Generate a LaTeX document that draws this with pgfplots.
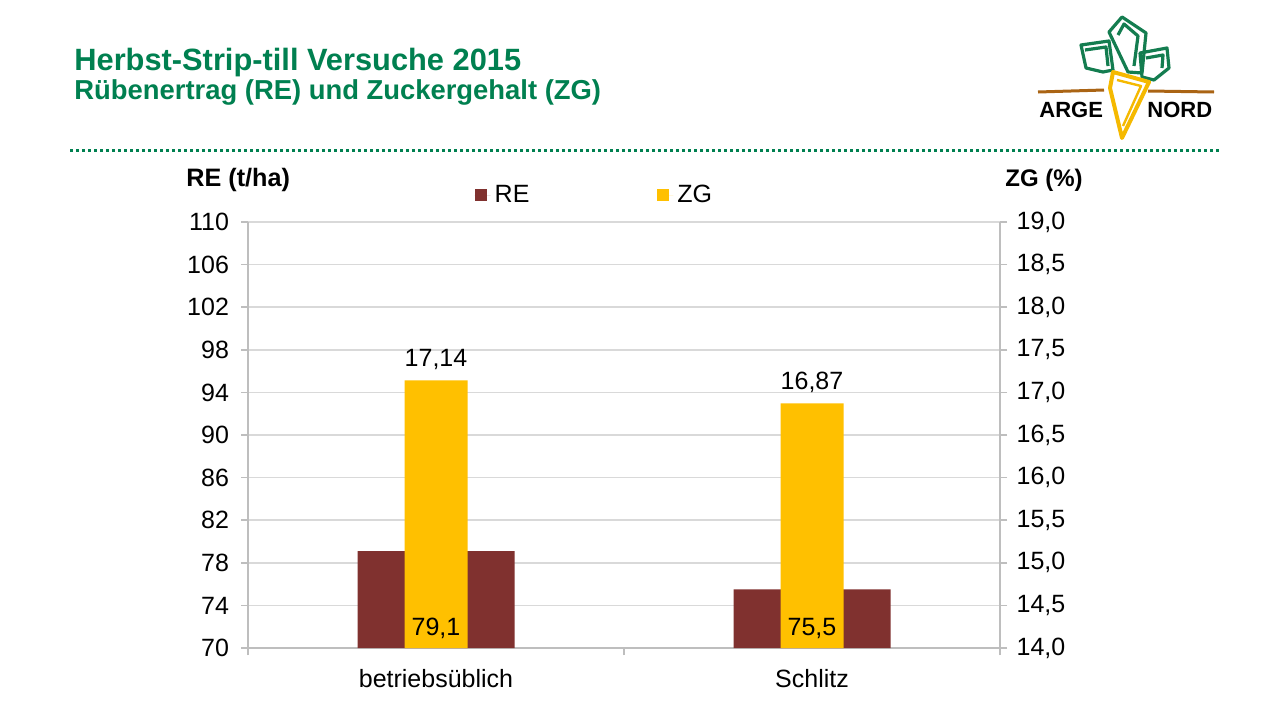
\documentclass[border=0pt]{standalone}
\usepackage{pgfplots}
\pgfplotsset{compat=1.18}
\usepackage{fontspec}
\setmainfont{Liberation Sans}
\definecolor{titlegreen}{RGB}{0,128,80}
\definecolor{recolor}{RGB}{128,49,47}
\definecolor{zgcolor}{RGB}{255,192,0}
\definecolor{gridgray}{RGB}{217,217,217}
\definecolor{axisgray}{RGB}{190,190,190}
\definecolor{logogreen}{RGB}{20,125,80}
\definecolor{logoyellow}{RGB}{245,185,0}
\definecolor{logobrown}{RGB}{170,100,20}
\pgfplotsset{
  base/.style={
    scale only axis, width=376pt, height=213pt, at={(124pt,36pt)}, anchor=south west,
    xmin=-0.5, xmax=1.5,
    tick label style={font=\fontsize{12.5}{15}\selectfont, text=black},
    /pgf/number format/assume math mode=true,
    axis line style={draw=axisgray, line width=0.75pt},
    tick style={draw=axisgray, line width=0.75pt},
    major tick length=3.5pt,
    tick align=outside,
  },
  sq legend/.style={legend image code/.code={\fill[##1] (0pt,-3pt) rectangle (6pt,3pt); \path (0pt,0pt) -- (8pt,0pt);}},
}
\begin{document}
\begin{tikzpicture}
\path[use as bounding box, fill=white] (0,0) rectangle (640pt,360pt);
\begin{scope}[x=0.5pt,y=-0.5pt,yshift=360pt]
  % titles
  \node[anchor=base west, inner sep=0, text=titlegreen, font=\fontsize{15.4}{18}\selectfont\bfseries] at (74,70) {Herbst-Strip-till Versuche 2015};
  \node[anchor=base west, inner sep=0, text=titlegreen, font=\fontsize{13.7}{16}\selectfont\bfseries] at (74,99) {Rübenertrag (RE) und Zuckergehalt (ZG)};
  % dotted separator
  \draw[titlegreen, line width=1.5pt, dash pattern=on 1.5pt off 1.5pt] (70,150) -- (1220,150);
  % axis titles
  \node[anchor=base west, inner sep=0, font=\fontsize{12.6}{15}\selectfont\bfseries] at (186,186) {RE (t/ha)};
  \node[anchor=base west, inner sep=0, font=\fontsize{12}{15}\selectfont\bfseries] at (1005,186) {ZG (\%)};
  % logo
  \draw[logobrown, line width=1.5pt] (1038,92) -- (1104,90);
  \draw[logobrown, line width=1.5pt] (1148,91) -- (1214,92);
  \begin{scope}[line width=1.6pt, line join=round]
    \draw[logogreen] (1081,45) -- (1109,41) -- (1113,70) -- (1103,72) -- (1086,68) -- cycle;
    \draw[logogreen] (1085,50) -- (1106,47) -- (1108,66);
    \draw[logogreen] (1109,32) -- (1122,17) -- (1146,33) -- (1142,73) -- (1128,72) -- cycle;
    \draw[logogreen] (1118,35) -- (1124,24) -- (1138,36) -- (1134,66);
    \draw[logogreen] (1140,53) -- (1167,48) -- (1169,68) -- (1154,80) -- (1142,77) -- cycle;
    \draw[logogreen] (1146,58) -- (1163,55) -- (1162,68);
    \draw[logoyellow, line width=2pt] (1113,72) -- (1149,82) -- (1122,138) -- (1110,88) -- cycle;
    \draw[logoyellow, line width=1.2pt] (1117,80) -- (1141,86) -- (1123,126);
  \end{scope}
  \node[anchor=base west, inner sep=0, font=\fontsize{11}{13}\selectfont\bfseries] at (1039,117) {ARGE};
  \node[anchor=base west, inner sep=0, font=\fontsize{11}{13}\selectfont\bfseries] at (1147,117) {NORD};
\end{scope}

% left axis: RE
\begin{axis}[base,
  axis x line*=bottom, axis y line*=left,
  ymin=70, ymax=110, ytick={70,74,...,110},
  ymajorgrids, grid style={draw=gridgray, line width=0.75pt},
  xtick={-0.5,0.5,1.5}, xticklabels={},
  extra x ticks={0,1}, extra x tick labels={betriebsüblich,Schlitz},
  extra x tick style={major tick length=0pt, grid=none, xticklabel style={yshift=-7pt}},
  yticklabel style={xshift=-2.5pt},
]
\addplot[ybar, bar width=78.5pt, bar shift=0pt, fill=recolor, draw=none]
  coordinates {(0,79.1) (1,75.5)};
\end{axis}

% right axis: ZG
\begin{axis}[base,
  axis y line*=right, axis x line=none,
  ymin=14, ymax=19, ytick={14,14.5,15,15.5,16,16.5,17,17.5,18,18.5,19},
  yticklabel style={xshift=1.3pt, /pgf/number format/.cd, fixed, fixed zerofill, precision=1, use comma},
  legend columns=2,
  legend style={draw=none, fill=none, at={(0.462,1.063)}, anchor=center,
    font=\fontsize{12.5}{15}\selectfont,
    /tikz/every even column/.append style={column sep=62pt}},
]
\addlegendimage{sq legend, fill=recolor, draw=none}
\addlegendentry{RE}
\addplot[ybar, sq legend, bar width=31.5pt, bar shift=0pt, fill=zgcolor, draw=none,
  nodes near coords={\pgfmathprintnumber[fixed,fixed zerofill,precision=2,use comma,assume math mode=true]{\pgfplotspointmeta}},
  every node near coord/.append style={font=\fontsize{12.5}{15}\selectfont, text=black, yshift=1.8pt}]
  coordinates {(0,17.14) (1,16.87)};
\addlegendentry{ZG}
\end{axis}

% RE value labels at the bar base, on top of the ZG bars
\begin{axis}[base, hide axis, ymin=70, ymax=110]
\addplot[ybar, bar width=31.5pt, bar shift=0pt, draw=none, fill=none, point meta=explicit,
  nodes near coords={\pgfmathprintnumber[fixed,precision=1,use comma,assume math mode=true]{\pgfplotspointmeta}},
  every node near coord/.append style={font=\fontsize{12.5}{15}\selectfont, text=black, yshift=1.3pt}]
  coordinates {(0,70) [79.1] (1,70) [75.5]};
\end{axis}
\end{tikzpicture}
\end{document}
